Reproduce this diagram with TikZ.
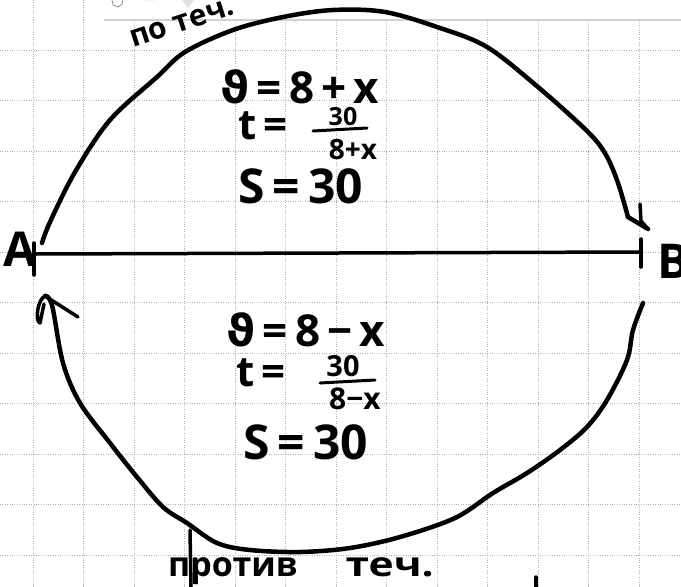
\documentclass[tikz,border=0pt]{standalone}
\usepackage{fontspec}
\setmainfont{Open Sans}
\newfontfamily\dvfont{DejaVu Sans}
\newcommand\myfs[1]{\fontsize{#1}{#1}\selectfont\bfseries}
\begin{document}
\begin{tikzpicture}[x=1pt,y=-1pt,
  gridline/.style={draw=black!30, line width=0.7pt, dash pattern=on 0.8pt off 1.6pt},
  ink/.style={draw=black, line width=4.5pt, line cap=round, line join=round},
  thinink/.style={draw=black, line width=3.5pt, line cap=round, line join=round},
  txt/.style={inner sep=0pt, anchor=base west, text=black},
  ctxt/.style={inner sep=0pt, anchor=center, text=black}]
\useasboundingbox (0,0) rectangle (681,587);
\fill[white] (0,0) rectangle (681,587);
% grid
\foreach \k in {0,...,12} \draw[gridline] ({33+50.5*\k},20) -- ({33+50.5*\k},587);
\draw[gridline] (33,0) -- (33,20);
\draw[gridline] (83,0) -- (83,20);
\foreach \k in {0,...,10} \draw[gridline] (0,{50+50.5*\k}) -- (681,{50+50.5*\k});
\draw[black!18, line width=1.2pt] (104,20) -- (681,20);
% toolbar fragments
\draw[black!45, line width=0.8pt] (112,0) -- (113,5) -- (118,7) -- (122,4) -- (123,0);
\fill[violet!45] (146,0) arc[start angle=180, end angle=360, radius=5];
\fill[black!12] (182,0) -- (194,0) -- (188,8) -- cycle;
% endpoints
\coordinate (Aend) at (35,254);
\coordinate (Bend) at (640,252);
\coordinate (Atip) at (45,296);
\coordinate (Btip) at (648,229);
\node[ctxt, font=\myfs{48}] (A) at (20,249) {A};
\node[ctxt, font=\myfs{48}] (B) at (674,261) {B};
% main segment with ticks
\draw[thinink] (Aend) -- (Bend);
\draw[thinink] (34,243) -- (34,275);
\draw[thinink] (641,239) -- (641,267);
% upper arc (downstream)
\draw[ink] plot[smooth, tension=0.55] coordinates {(42,243) (50,222) (75,172) (110,120) (157,77) (185,52) (233,30) (283,17) (333,10) (385,12) (440,28) (487,47) (538,87) (588,132) (606,155) (618,183) (628,217)};
\draw[ink] (628,217) -- (Btip);
\draw[thinink] (640,204) -- (641,221) -- (Btip);
% lower arc (upstream)
\draw[ink] plot[smooth, tension=0.55] coordinates {(643,303) (633,330) (627,360) (607,400) (587,427) (560,450) (527,473) (493,493) (455,518) (400,537) (350,548) (300,552) (250,550) (217,543) (187,523) (163,507) (137,477) (110,443) (80,403) (63,363) (52,305) (Atip)};
\draw[thinink] (Atip) -- (78,317);
\draw[thinink] (Atip) .. controls (37,300) and (35,322) .. (40,323) -- (44,304);
% labels on arcs
\node[ctxt, font=\myfs{30}, rotate=18] (up) at (182,23) {по теч.};
\node[txt, font=\myfs{34}] (down) at (168,576) {против\hspace{48pt}\scalebox{1.25}[1]{теч.}};
\draw[thinink] (190,530) -- (191,587);
\draw[thinink] (536,577) -- (536,587);
% upper formulas
\node[txt, font=\myfs{44}] (v1) at (220,103) {{\dvfont\bfseries ϑ}\,=\,8\,+\,x};
\node[txt, font=\myfs{42}] (t1) at (238,139) {t\,=};
\node[ctxt, font=\myfs{25}] (n1) at (343,117) {30};
\draw[line width=3pt, line cap=round] (313,131) -- (367,128);
\node[ctxt, font=\myfs{28}] (d1) at (353,150) {8+x};
\node[txt, font=\myfs{48}] (s1) at (238,203) {S\,=\,30};
% lower formulas
\node[txt, font=\myfs{44}] (v2) at (226,346) {{\dvfont\bfseries ϑ}\,=\,8\,−\,x};
\node[txt, font=\myfs{42}] (t2) at (236,386) {t\,=};
\node[ctxt, font=\myfs{29}] (n2) at (343,366) {30};
\draw[line width=3pt, line cap=round] (320,383) -- (375,380);
\node[ctxt, font=\myfs{30}] (d2) at (355,399) {8−x};
\node[txt, font=\myfs{48}] (s2) at (243,459) {S\,=\,30};
\end{tikzpicture}
\end{document}
